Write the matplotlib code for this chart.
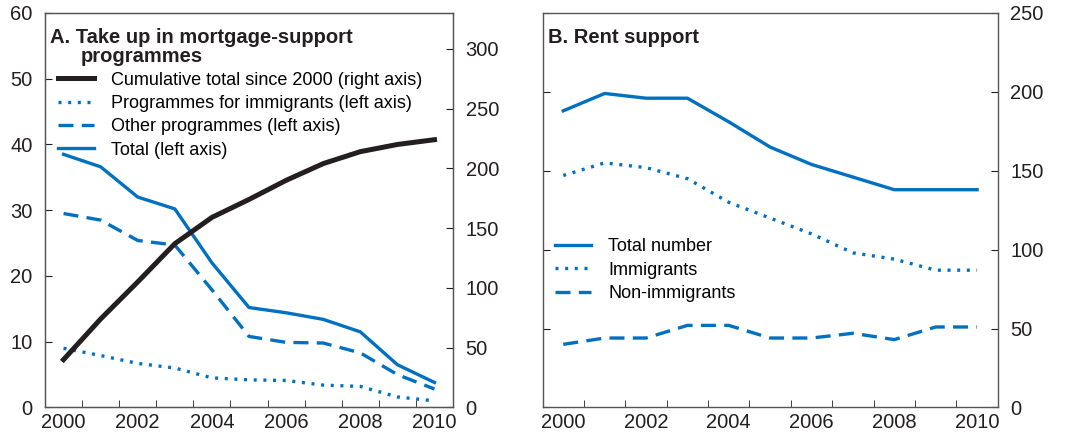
import numpy as np
import matplotlib
matplotlib.use("Agg")
import matplotlib.pyplot as plt
from matplotlib.ticker import FixedLocator

plt.rcParams['font.family'] = ['Liberation Sans', 'DejaVu Sans']
plt.rcParams['font.size'] = 13

years = list(range(2000, 2011))
year_labels = ["2000", "2002", "2004", "2006", "2008", "2010"]

# Panel A: mortgage-support programmes
total_a = [38.5, 36.6, 32.0, 30.2, 22.0, 15.2, 14.4, 13.4, 11.5, 6.5, 3.8]
other_a = [29.5, 28.5, 25.4, 24.7, 17.9, 10.8, 9.9, 9.8, 8.3, 5.0, 2.8]
immig_a = [9.0, 7.9, 6.7, 6.0, 4.5, 4.2, 4.1, 3.4, 3.2, 1.6, 1.0]
cumul_a = [40, 74, 105, 137, 159, 174, 190, 204, 214, 220, 224]

# Panel B: rent support
total_b = [188, 199, 196, 196, 181, 165, 154, 146, 138, 138, 138]
immig_b = [147, 155, 152, 145, 130, 120, 110, 98, 94, 87, 87]
nonimm_b = [40, 44, 44, 52, 52, 44, 44, 47, 43, 51, 51]

blue = "#0070c0"
black = "#231f20"
dot = (0, (0.9, 2.0))
dash = (0, (4.5, 2.5))
TICK_FS = 14.5
TITLE_FS = 14.5

fig = plt.figure(figsize=(10.66, 4.33), dpi=100)
axA = fig.add_axes([0.0422, 0.059, 0.3828, 0.911])
axB = fig.add_axes([0.509, 0.059, 0.427, 0.911])
x = np.arange(len(years))


def style_x(ax):
    ax.set_xlim(-0.5, len(years) - 0.5)
    ax.xaxis.set_major_locator(FixedLocator(np.arange(0, len(years), 2)))
    ax.set_xticklabels(year_labels)
    ax.xaxis.set_minor_locator(FixedLocator(np.arange(0.5, len(years) - 1, 1)))
    ax.tick_params(axis="x", which="major", length=0, pad=4, labelsize=TICK_FS, colors=black)
    ax.tick_params(axis="x", which="minor", direction="in", length=5, color=black)
    for s in ax.spines.values():
        s.set_color("#555555")
        s.set_linewidth(1.0)


# ---- Panel A ----
l_tot, = axA.plot(x, total_a, color=blue, lw=2.4, label="Total (left axis)")
l_oth, = axA.plot(x, other_a, color=blue, lw=2.4, ls=dash, label="Other programmes (left axis)")
l_imm, = axA.plot(x, immig_a, color=blue, lw=2.4, ls=dot, label="Programmes for immigrants (left axis)")
axA.set_ylim(0, 60)
axA.set_yticks(range(0, 61, 10))
axA.tick_params(axis="y", direction="in", length=5, labelsize=TICK_FS, colors=black, pad=9)
style_x(axA)

axA2 = axA.twinx()
l_cum, = axA2.plot(x, cumul_a, color=black, lw=3.6, label="Cumulative total since 2000 (right axis)")
axA2.set_ylim(0, 330)
axA2.set_yticks(range(0, 301, 50))
axA2.tick_params(axis="y", direction="in", length=5, labelsize=TICK_FS, colors=black, pad=9)
for s in axA2.spines.values():
    s.set_color("#555555")

axA.text(0.0123, 0.924, "A. Take up in mortgage-support", transform=axA.transAxes,
         fontsize=TITLE_FS, fontweight="bold", va="baseline", ha="left", color=black)
axA.text(0.088, 0.876, "programmes", transform=axA.transAxes,
         fontsize=TITLE_FS, fontweight="bold", va="baseline", ha="left", color=black)
handles = [l_cum, l_imm, l_oth, l_tot]
axA2.legend(handles, [h.get_label() for h in handles],
            loc="upper left", bbox_to_anchor=(0.0, 0.883), frameon=False,
            handlelength=2.0, handletextpad=0.95, labelspacing=0.35, fontsize=13, borderaxespad=0.3)

# ---- Panel B ----
m_tot, = axB.plot(x, total_b, color=blue, lw=2.4, label="Total number")
m_imm, = axB.plot(x, immig_b, color=blue, lw=2.4, ls=dot, label="Immigrants")
m_non, = axB.plot(x, nonimm_b, color=blue, lw=2.4, ls=dash, label="Non-immigrants")
axB.set_ylim(0, 250)
axB.set_yticks(range(0, 251, 50))
axB.tick_params(axis="y", direction="in", length=5, right=True, labelright=True,
                labelleft=False, labelsize=TICK_FS, colors=black, pad=9)
style_x(axB)

axB.text(0.011, 0.924, "B. Rent support", transform=axB.transAxes,
         fontsize=TITLE_FS, fontweight="bold", va="baseline", ha="left", color=black)
axB.legend(loc="upper left", bbox_to_anchor=(0.0, 0.461), frameon=False,
           handlelength=2.0, handletextpad=0.95, labelspacing=0.35, fontsize=13, borderaxespad=0.3)

fig.savefig("out.png", dpi=100)
